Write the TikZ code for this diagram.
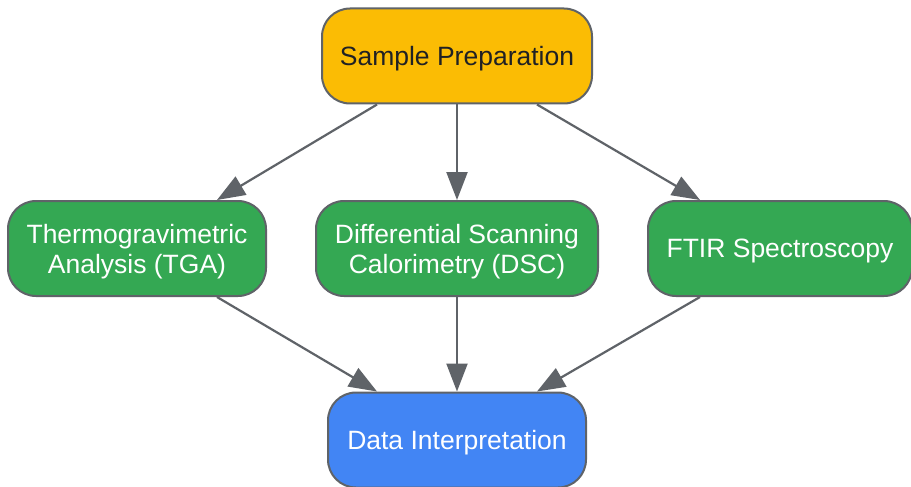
\documentclass[tikz,border=0pt]{standalone}
\usepackage{fontspec}
\setmainfont{Liberation Sans}
\usetikzlibrary{arrows.meta}
\definecolor{bordergray}{HTML}{5F6368}
\definecolor{gyellow}{HTML}{FBBC04}
\definecolor{ggreen}{HTML}{34A853}
\definecolor{gblue}{HTML}{4285F4}
\definecolor{darktext}{HTML}{202124}
\tikzset{
  box/.style={draw=bordergray, line width=2pt, rounded corners=28pt, inner sep=0pt,
    align=center, font=\fontsize{26.5}{30}\selectfont, minimum height=95pt, text depth=0pt},
  ybox/.style={box, fill=gyellow, text=darktext},
  gbox/.style={box, fill=ggreen, text=white},
  bbox/.style={box, fill=gblue, text=white},
  arr/.style={draw=bordergray, line width=2.2pt, -{Triangle[length=28pt,width=21pt]}}
}
\begin{document}
\begin{tikzpicture}
\clip (0,0) rectangle (911pt,-487pt);
\fill[white] (0,0) rectangle (911pt,-487pt);
\node[ybox, minimum width=270pt] (prep) at (457pt,-56pt) {Sample Preparation};
\node[gbox, minimum width=258pt] (tga) at (137pt,-248.5pt) {Thermogravimetric\\Analysis (TGA)};
\node[gbox, minimum width=282pt] (dsc) at (457pt,-248.5pt) {Differential Scanning\\Calorimetry (DSC)};
\node[gbox, minimum width=264pt] (ftir) at (780pt,-248.5pt) {FTIR Spectroscopy};
\node[bbox, minimum width=258pt] (data) at (457pt,-440pt) {Data Interpretation};
\draw[arr] ([xshift=-80pt]prep.south) -- ([xshift=80pt]tga.north);
\draw[arr] (prep.south) -- (dsc.north);
\draw[arr] ([xshift=80pt]prep.south) -- ([xshift=-80pt]ftir.north);
\draw[arr] ([xshift=80pt]tga.south) -- ([xshift=-80pt]data.north);
\draw[arr] (dsc.south) -- (data.north);
\draw[arr] ([xshift=-80pt]ftir.south) -- ([xshift=80pt]data.north);
\end{tikzpicture}
\end{document}
